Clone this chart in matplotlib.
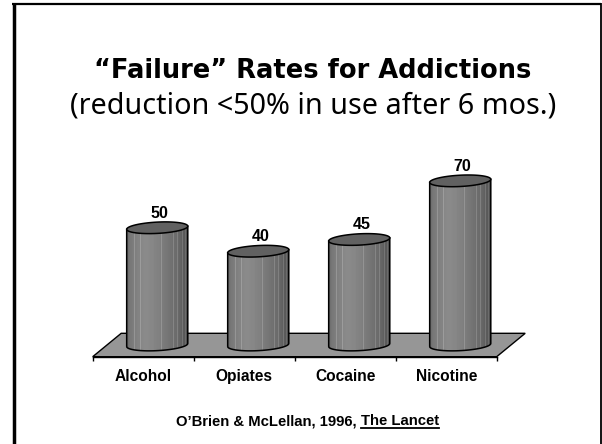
import numpy as np
import matplotlib
matplotlib.use("Agg")
import matplotlib.pyplot as plt
from matplotlib.patches import PathPatch, Polygon
from matplotlib.path import Path

categories = ["Alcohol", "Opiates", "Cocaine", "Nicotine"]
values = [50, 40, 45, 70]

W, H = 602, 444
fig = plt.figure(figsize=(W / 100, H / 100), dpi=100, facecolor="white")

# whole-slide axes in pixels, for frame and text
bg = fig.add_axes([0, 0, 1, 1])
bg.set_xlim(0, W)
bg.set_ylim(H, 0)
bg.axis("off")
bg.plot([13.8, 13.8], [H, 3], color="black", lw=2.5, solid_capstyle="butt")
bg.plot([12, 600.5], [4, 4], color="black", lw=1.6, solid_capstyle="butt")
bg.plot([600.5, 600.5], [3, H], color="black", lw=1.3, solid_capstyle="butt")

bg.text(313, 77.5, "\u201cFailure\u201d Rates for Addictions", ha="center", va="baseline",
        fontsize=18.5, fontweight="bold", family="DejaVu Sans")
bg.text(313, 113, "(reduction <50% in use after 6 mos.)", ha="center", va="baseline",
        fontsize=20.7, family="Noto Sans")

# chart axes: x unit = 101 px, y unit = 2.345 px
left, right = 92.7, 496.7
base = 356.7
top = 150
ax = fig.add_axes([left / W, 1 - base / H, (right - left) / W, (base - top) / H])
ax.patch.set_alpha(0)
for s in ax.spines.values():
    s.set_visible(False)
ax.spines["bottom"].set_visible(True)
ax.spines["bottom"].set_linewidth(1.0)
ax.set_xticks([-0.5, 0.5, 1.5, 2.5, 3.5])
ax.set_xticklabels([])
ax.set_yticks([])
ax.tick_params(axis="x", length=3, width=1, direction="out")

# floor (depth offset in axis units)
depth_x = 28.5 / 101
depth_y = 23.4 / 2.345
ax.add_patch(Polygon([(-0.5, 0), (3.5, 0), (3.5 + depth_x, depth_y), (-0.5 + depth_x, depth_y)],
                     closed=True, fc="#969696", ec="black", lw=1.0, clip_on=False))

# shading across the cylinder, left to right
shade = [0.42, 0.46, 0.48, 0.49, 0.50, 0.51, 0.52, 0.53, 0.54, 0.54, 0.54, 0.53, 0.53, 0.52, 0.51,
         0.50, 0.49, 0.48, 0.47, 0.46, 0.45, 0.44, 0.43, 0.42, 0.41, 0.39, 0.37, 0.35, 0.32, 0.29]
streaks = [0.13, 0.22, 0.55, 0.76, 0.82, 0.90, 0.95]
xs = np.linspace(0, 1, 61)
grey = np.interp(xs, np.linspace(0, 1, len(shade)), shade)
for s in streaks:
    grey[int(s * 60)] += 0.09
grey = grey[np.newaxis, :]

bar_w = 0.605
bar_shift = 0.139
ell_h = 11.3 / 2.345
floor_mid = 11.7 / 2.345
tilt = 2.2  # rise of the ellipses per x unit

t = np.linspace(0, 2 * np.pi, 80)
t_low = np.linspace(np.pi, 2 * np.pi, 40)

for i, v in enumerate(values):
    cx = i + bar_shift
    x0 = cx - bar_w / 2
    x1 = cx + bar_w / 2
    y0 = floor_mid
    y1 = floor_mid + v
    rise = tilt * bar_w / 2

    low_x = cx + bar_w / 2 * np.cos(t_low)
    low_y = y0 + ell_h / 2 * np.sin(t_low) + tilt * (low_x - cx)
    verts = np.vstack([np.column_stack([low_x, low_y]), [[x1, y1 + rise], [x0, y1 - rise]],
                       [[low_x[0], low_y[0]]]])
    path = Path(verts)
    ax.add_patch(PathPatch(path, fc="none", ec="black", lw=1.1, zorder=3, clip_on=False))
    im = ax.imshow(grey, cmap="gray", vmin=0, vmax=1, extent=[x0, x1, y0 - ell_h, y1 + ell_h],
                   aspect="auto", zorder=2, interpolation="nearest")
    im.set_clip_path(PathPatch(path, transform=ax.transData))

    top_x = cx + bar_w / 2 * np.cos(t)
    top_y = y1 + ell_h / 2 * np.sin(t) + tilt * (top_x - cx)
    ax.add_patch(Polygon(np.column_stack([top_x, top_y]), closed=True, fc="#616161", ec="black",
                         lw=1.1, zorder=4, clip_on=False))
    ax.text(cx + 0.02, y1 + 4.3, str(v), ha="center", va="baseline", fontsize=11.5,
            fontweight="bold", family="Liberation Sans", zorder=5)

ax.set_xlim(-0.5, 3.5)
ax.set_ylim(0, (base - top) / 2.345)

for i, c in enumerate(categories):
    bg.text(left + 50.5 + i * 101, 380.7, c, ha="center", va="baseline", fontsize=11.2,
            fontweight="bold", family="Liberation Sans")

# source line, with underlined journal name
bg.text(176, 425, "O\u2019Brien & McLellan, 1996,", ha="left", va="baseline", fontsize=10.7,
        fontweight="bold", family="Liberation Sans")
bg.text(361, 425, "The Lancet", ha="left", va="baseline", fontsize=10.7,
        fontweight="bold", family="Liberation Sans")
bg.plot([361, 439], [428, 428], color="black", lw=1.3)

fig.savefig("out.png", dpi=100)
